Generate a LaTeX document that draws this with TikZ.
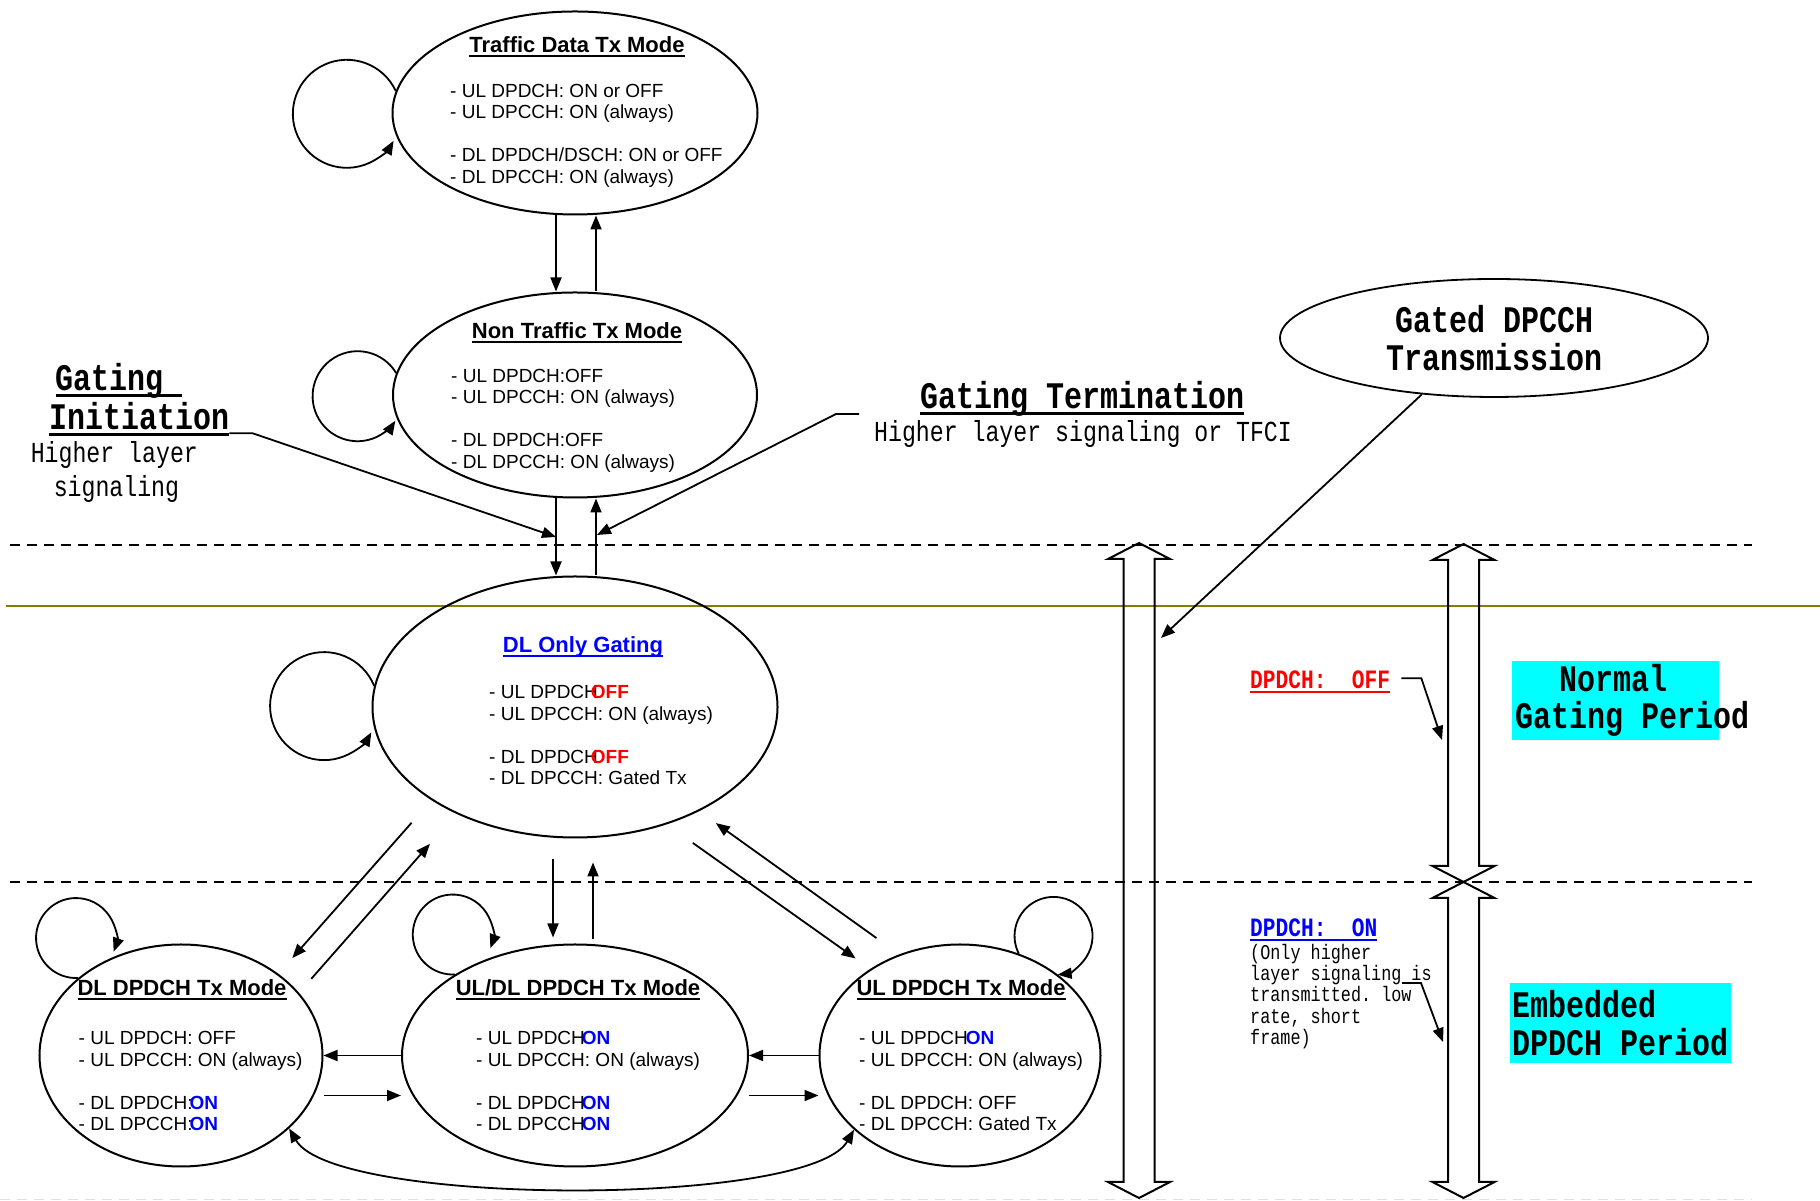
\documentclass[tikz,border=0pt]{standalone}
\usepackage{fontspec}
\setmainfont{Liberation Sans}
\newfontfamily\gatefont[FakeStretch=0.8]{Liberation Mono}
\usetikzlibrary{arrows.meta,shapes.geometric}
\definecolor{olivebar}{RGB}{128,128,0}
\definecolor{periodcyan}{RGB}{0,255,255}
\newsavebox{\undlbox}
\newcommand{\undl}[1]{\sbox{\undlbox}{#1}\rlap{\rule[-0.16em]{\wd\undlbox}{0.075em}}\usebox{\undlbox}}
\newcommand{\gatebig}{\gatefont\bfseries\fontsize{37.5}{38}\selectfont}
\newcommand{\gatereg}{\gatefont\fontsize{29}{34}\selectfont}
\newcommand{\gatemid}{\gatefont\bfseries\fontsize{26.5}{30}\selectfont}
\newcommand{\gatesmall}{\gatefont\frenchspacing\fontsize{21}{21.25}\selectfont}
\tikzset{
  modeell/.style={ellipse, draw, line width=2pt, inner sep=0pt},
  modetitle/.style={font=\fontsize{22}{26}\selectfont\bfseries, inner sep=0pt, anchor=base},
  modetext/.style={font=\fontsize{19}{21.5}\selectfont, align=left, inner sep=0pt, anchor=west},
  arr/.style={-{Triangle[length=14pt,width=11pt]}, line width=1.8pt},
  dblarr/.style={{Triangle[length=14pt,width=11pt]}-{Triangle[length=14pt,width=11pt]}, line width=1.8pt},
  divider/.style={dash pattern=on 10pt off 7pt, line width=1.5pt},
  hollowarr/.style={line width=2pt, line join=miter},
  gatelabel/.style={font=\gatebig, inner sep=0pt, anchor=base west},
  gatenote/.style={font=\gatereg, inner sep=0pt, anchor=base west},
  periodbox/.style={fill=periodcyan, inner sep=0pt},
}
\begin{document}
\begin{tikzpicture}[x=1pt,y=1pt]
\useasboundingbox (0,0) rectangle (1820,1201);

% period lines
\draw[divider] (10,656) -- (1752,656);
\draw[divider] (10,319) -- (1752,319);
\draw[divider, black!12] (0,1.5) -- (1752,1.5);
\draw[olivebar, line width=2.8pt] (6,595) -- (1820,595);

% modes
\node[modeell, minimum width=365, minimum height=203] (traffic) at (575,1088) {};
\node[modetitle] (traffict) at (577,1148) {\undl{Traffic Data Tx Mode}};
\node[modetext] (trafficb) at (450,1065.5) {- UL DPDCH: ON or OFF\\- UL DPCCH: ON (always)\\[21.5pt]- DL DPDCH/DSCH: ON or OFF\\- DL DPCCH: ON (always)};

\node[modeell, minimum width=364, minimum height=205] (nontraffic) at (575,806) {};
\node[modetitle] (nontraffict) at (577,862) {\undl{Non Traffic Tx Mode}};
\node[modetext] (nontrafficb) at (451,780.5) {- UL DPDCH:OFF\\- UL DPCCH: ON (always)\\[21.5pt]- DL DPDCH:OFF\\- DL DPCCH: ON (always)};

\node[modeell, minimum width=405, minimum height=261] (dlonly) at (575,494) {};
\node[modetitle, text=blue] (dlonlyt) at (583,548) {\undl{DL Only Gating}};
\node[modetext] (dlonlyb) at (489,466) {- UL DPDCH\hspace{-7pt}{\color{red}\bfseries OFF}\\- UL DPCCH: ON (always)\\[21.5pt]- DL DPDCH\hspace{-7pt}{\color{red}\bfseries OFF}\\- DL DPCCH: Gated Tx};

\node[modeell, minimum width=283, minimum height=222] (dldpdch) at (181,145.5) {};
\node[modetitle] (dldpdcht) at (182,205) {\undl{DL DPDCH Tx Mode}};
\node[modetext] (dldpdchb) at (78.5,120) {- UL DPDCH: OFF\\- UL DPCCH: ON (always)\\[21.5pt]- DL DPDCH:\hspace{-3pt}{\color{blue}\bfseries ON}\\- DL DPCCH:\hspace{-3pt}{\color{blue}\bfseries ON}};

\node[modeell, minimum width=346, minimum height=222] (uldl) at (575,145.5) {};
\node[modetitle] (uldlt) at (578,205) {\undl{UL/DL DPDCH Tx Mode}};
\node[modetext] (uldlb) at (476,120) {- UL DPDCH\hspace{-3pt}{\color{blue}\bfseries ON}\\- UL DPCCH: ON (always)\\[21.5pt]- DL DPDCH\hspace{-3pt}{\color{blue}\bfseries ON}\\- DL DPCCH\hspace{-3pt}{\color{blue}\bfseries ON}};

\node[modeell, minimum width=281, minimum height=222] (ulmode) at (960,145.5) {};
\node[modetitle] (ulmodet) at (961,205) {\undl{UL DPDCH Tx Mode}};
\node[modetext] (ulmodeb) at (859,120) {- UL DPDCH\hspace{-2pt}{\color{blue}\bfseries ON}\\- UL DPCCH: ON (always)\\[21.5pt]- DL DPDCH: OFF\\- DL DPCCH: Gated Tx};

% self loops
\draw[arr] (traffic.173) arc[start angle=25, end angle=330, radius=54];
\draw[arr] (nontraffic.173) arc[start angle=31, end angle=327, radius=45];
\draw[arr] (dlonly.174) arc[start angle=22, end angle=331, radius=54];
\draw[arr] (dldpdch.143) arc[start angle=273, end angle=-20, radius=40];
\draw[arr] (uldl.146) arc[start angle=273, end angle=-20, radius=40];
\draw[arr] (ulmode.60) arc[start angle=207, end angle=-84, radius=39];

% transitions
\draw[arr] ([xshift=-19pt]traffic.south) -- ([xshift=-19pt]traffic.south |- nontraffic.north);
\draw[arr] ([xshift=21pt]traffic.south |- nontraffic.north) -- ([xshift=21pt]traffic.south);
\draw[arr] ([xshift=-19pt]nontraffic.south) -- ([xshift=-19pt]nontraffic.south |- dlonly.north);
\draw[arr] ([xshift=21pt]nontraffic.south |- dlonly.north) -- ([xshift=21pt]nontraffic.south);
\draw[arr, shorten <=21pt, shorten >=6pt] ([xshift=-22pt]dlonly.south) -- ([xshift=-22pt]dlonly.south |- uldl.north);
\draw[arr, shorten <=4pt, shorten >=24pt] ([xshift=18pt]dlonly.south |- uldl.north) -- ([xshift=18pt]dlonly.south);
\draw[arr, shorten <=30pt, shorten >=21pt] (dlonly.213) -- (dldpdch.40);
\draw[arr, shorten <=18.5pt, shorten >=40pt] (dldpdch.28) -- (dlonly.222);
\draw[arr, shorten <=32pt, shorten >=18pt] (dlonly.-52) -- (ulmode.136);
\draw[arr, shorten <=28pt, shorten >=20.5pt] (ulmode.121) -- (dlonly.-40);
\draw[arr] (uldl.west) -- (dldpdch.east);
\draw[arr] ([yshift=-40pt]dldpdch.east) -- ([yshift=-40pt]uldl.west);
\draw[arr] (ulmode.west) -- (uldl.east);
\draw[arr] ([yshift=-40pt]uldl.east) -- ([yshift=-40pt]ulmode.west);
\draw[dblarr] (dldpdch.-34) .. controls +(-60:90) and +(-120:90) .. (ulmode.-145);

% gating triggers
\node[gatelabel] (ginit1) at (55.5,810) {\undl{Gating\ }};
\node[gatelabel] (ginit2) at (49,771) {\undl{Initiation}};
\node[gatenote] (ginit3) at (30.6,738) {Higher layer};
\node[gatenote] (ginit4) at (53.6,704) {signaling};
\coordinate (initend) at (556,664);
\draw[arr] ([yshift=3pt]ginit2.south east) -- ++(23,0) -- (initend);

\node[gatelabel] (gterm1) at (920,792) {\undl{Gating Termination}};
\node[gatenote] (gterm2) at (874,759) {Higher layer signaling or TFCI};
\coordinate (gtermfrom) at (859,787);
\coordinate (gtermend) at (597,666);
\draw[arr] (gtermfrom) -- ++(-23,0) -- (gtermend);

% gated transmission
\node[modeell, line width=1.8pt, minimum width=428, minimum height=118, font=\gatebig, align=center] (gated) at (1494,863) {Gated DPCCH\\Transmission};
\coordinate (gatedtip) at (1161,563);
\draw[arr] (gated.-142) -- (gatedtip);

% period arrows
\foreach \cx/\ytop/\ybot in {1139/658/3, 1463.5/657/319, 1463.5/319/3}
  \draw[hollowarr] (\cx,\ytop) -- ++(31,-16) -- ++(-15.5,0) -- (\cx+15.5,\ybot+16) -- ++(15.5,0) -- (\cx,\ybot) -- ++(-31,16) -- ++(15.5,0) -- (\cx-15.5,\ytop-16) -- ++(-15.5,0) -- cycle;

\node[gatelabel, font=\gatemid, text=red] (dpoff) at (1250,512) {\undl{DPDCH:~~OFF}};
\coordinate (offtip) at (1442,461);
\draw[arr] ([xshift=11pt,yshift=4pt]dpoff.east) -- ++(20,0) -- (offtip);
\node[periodbox, minimum width=207, minimum height=79] (normbox) at (1615.5,500.5) {};
\node[gatelabel] (normal1) at (1559,509) {Normal};
\node[gatelabel] (normal2) at (1515,472) {Gating Period};

\node[gatelabel, font=\gatemid, text=blue] (dpon) at (1250,264) {\undl{DPDCH:~~ON}};
\node[font=\gatesmall, align=left, inner sep=0pt, anchor=north west] (onnote) at (1250,257) {(Only higher\\layer signaling is\\transmitted. low\\rate, short\\frame)};
\coordinate (onfrom) at (1402,218);
\coordinate (ontip) at (1443,159);
\draw[arr] (onfrom) -- ++(19,0) -- (ontip);
\node[periodbox, minimum width=221, minimum height=80, font=\gatebig, align=left] (embbox) at (1620.5,178) {Embedded\\DPDCH Period};
\end{tikzpicture}
\end{document}
